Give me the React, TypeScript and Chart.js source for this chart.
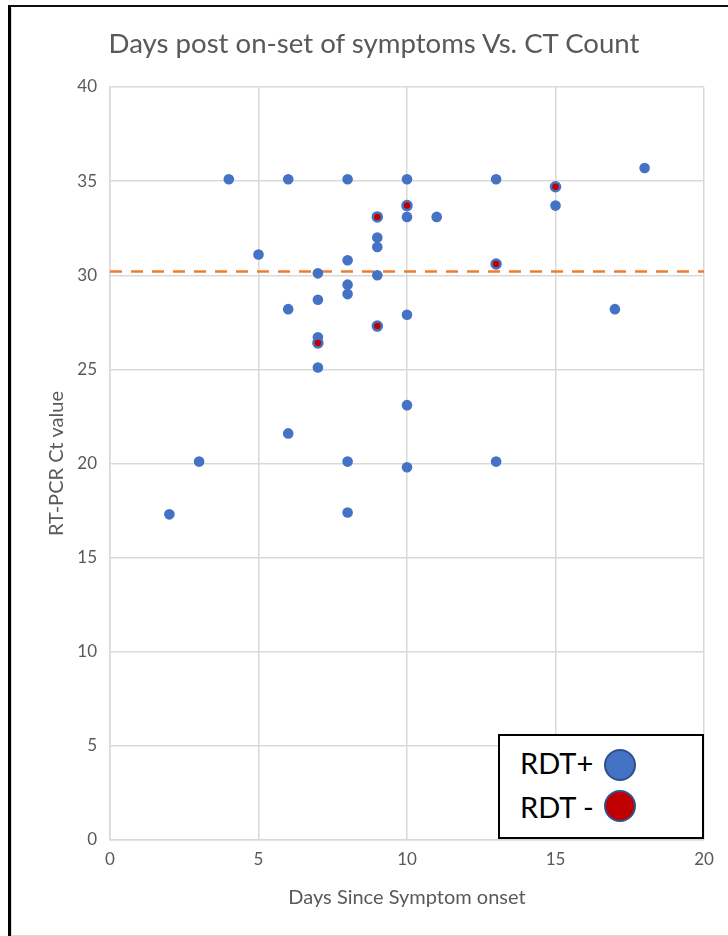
import React, { useEffect, useRef } from 'react';
import { Chart, registerables } from 'chart.js';

Chart.register(...registerables);

const FONT = 'Lato, "Open Sans", sans-serif';

const TITLE = 'Days post on-set of symptoms Vs. CT Count';
const X_TITLE = 'Days Since Symptom onset';
const Y_TITLE = 'RT-PCR Ct value';

// RDT positive (blue) points
const rdtPosDays = [2, 3, 4, 5, 6, 6, 6, 7, 7, 7, 7, 8, 8, 8, 8, 8, 8, 9, 9, 9, 10, 10, 10, 10, 10, 11, 13, 13, 15, 17, 18];
const rdtPosCt = [17.3, 20.1, 35.1, 31.1, 35.1, 28.2, 21.6, 30.1, 28.7, 26.7, 25.1, 35.1, 30.8, 29.5, 29.0, 20.1, 17.4, 32.0, 31.5, 30.0, 35.1, 33.1, 27.9, 23.1, 19.8, 33.1, 35.1, 20.1, 33.7, 28.2, 35.7];

// RDT negative (red) points
const rdtNegDays = [7, 9, 9, 10, 13, 15];
const rdtNegCt = [26.4, 33.1, 27.3, 33.7, 30.6, 34.7];

// dashed reference line
const thresholdDays = [0, 20];
const thresholdCt = [30.2, 30.2];

const xTicks = { min: 0, max: 20, step: 5 };
const yTicks = { min: 0, max: 40, step: 5 };

const legendLabels = ['RDT+', 'RDT -'];

export default function App() {
  const canvasRef = useRef<HTMLCanvasElement | null>(null);

  useEffect(() => {
    const canvas = canvasRef.current;
    if (!canvas) return;
    const pos = rdtPosDays.map((d, i) => ({ x: d, y: rdtPosCt[i] }));
    const neg = rdtNegDays.map((d, i) => ({ x: d, y: rdtNegCt[i] }));
    const thr = thresholdDays.map((d, i) => ({ x: d, y: thresholdCt[i] }));
    const grey = '#595959';
    const gridColor = '#d9d9d9';

    const chart = new Chart(canvas, {
      type: 'scatter',
      data: {
        datasets: [
          {
            label: legendLabels[1],
            data: neg,
            backgroundColor: '#c00000',
            borderColor: '#4472c4',
            borderWidth: 2.5,
            pointRadius: 4.5,
            order: 0,
          } as any,
          {
            label: legendLabels[0],
            data: pos,
            backgroundColor: '#4472c4',
            borderColor: '#4472c4',
            borderWidth: 0,
            pointRadius: 5.3,
            order: 1,
          } as any,
          {
            type: 'line',
            label: 'threshold',
            data: thr,
            borderColor: '#ed7d31',
            borderWidth: 2.5,
            borderDash: [12, 9],
            pointRadius: 0,
            fill: false,
            order: 2,
          } as any,
        ],
      },
      options: {
        responsive: false,
        maintainAspectRatio: false,
        animation: false,
        layout: { padding: { left: 0, right: 24, top: 87, bottom: 0 } },
        plugins: {
          legend: { display: false },
          tooltip: { enabled: false },
          title: { display: false },
        },
        scales: {
          x: {
            type: 'linear',
            min: xTicks.min,
            max: xTicks.max,
            ticks: {
              stepSize: xTicks.step,
              color: grey,
              font: { family: FONT, size: 17 },
              padding: 9,
            },
            grid: { color: gridColor, lineWidth: 1.5, drawTicks: false },
            border: { color: gridColor, width: 1.5 },
            title: {
              display: true,
              text: X_TITLE,
              color: grey,
              font: { family: FONT, size: 20 },
              padding: { top: 0, bottom: 26 },
            },
            afterFit: (s: any) => {
              s.height = 96;
            },
          },
          y: {
            type: 'linear',
            min: yTicks.min,
            max: yTicks.max,
            ticks: {
              stepSize: yTicks.step,
              color: grey,
              font: { family: FONT, size: 17 },
              padding: 13,
            },
            grid: { color: gridColor, lineWidth: 1.5, drawTicks: false },
            border: { color: gridColor, width: 1.5 },
            title: {
              display: true,
              text: Y_TITLE,
              color: grey,
              font: { family: FONT, size: 20 },
              padding: { top: 45, bottom: 0 },
            },
            afterFit: (s: any) => {
              s.width = 110;
            },
          },
        },
      } as any,
    });
    return () => chart.destroy();
  }, []);

  const circle = (bg: string): React.CSSProperties => ({
    position: 'absolute',
    left: 604,
    width: 28,
    height: 28,
    borderRadius: '50%',
    background: bg,
    border: '2.5px solid #2f528f',
  });

  return (
    <div style={{ position: 'absolute', left: 0, top: 0, width: 728, height: 936, background: '#fff', overflow: 'hidden' }}>
      <canvas ref={canvasRef} width={728} height={936} style={{ position: 'absolute', left: 0, top: 0, width: 728, height: 936 }} />
      {/* chart title */}
      <div style={{ position: 'absolute', left: 0, top: 26, width: 748, textAlign: 'center', fontFamily: FONT, fontSize: 27.6, lineHeight: '33px', color: '#595959', whiteSpace: 'pre' }}>{TITLE}</div>
      {/* outer frame */}
      <div style={{ position: 'absolute', left: 8, top: 5, width: 730, height: 940, borderTop: '2.5px solid #111', borderLeft: '3px solid #000', boxSizing: 'border-box' }} />
      <div style={{ position: 'absolute', left: 11, top: 8, width: 720, height: 928, borderLeft: '1px solid #d9d9d9', borderBottom: '1px solid #d9d9d9', boxSizing: 'border-box' }} />
      {/* legend box */}
      <div style={{ position: 'absolute', left: 498, top: 734, width: 206, height: 105, border: '2.5px solid #000', background: '#fff', boxSizing: 'border-box' }} />
      <div style={{ position: 'absolute', left: 520, top: 745, fontFamily: FONT, fontSize: 29, lineHeight: '35px', color: '#000', whiteSpace: 'pre' }}>{legendLabels[0]}</div>
      <div style={{ position: 'absolute', left: 520, top: 789, fontFamily: FONT, fontSize: 29, lineHeight: '35px', color: '#000', whiteSpace: 'pre' }}>{legendLabels[1]}</div>
      <div style={{ ...circle('#4472c4'), top: 749 }} />
      <div style={{ ...circle('#c00000'), top: 790 }} />
    </div>
  );
}
